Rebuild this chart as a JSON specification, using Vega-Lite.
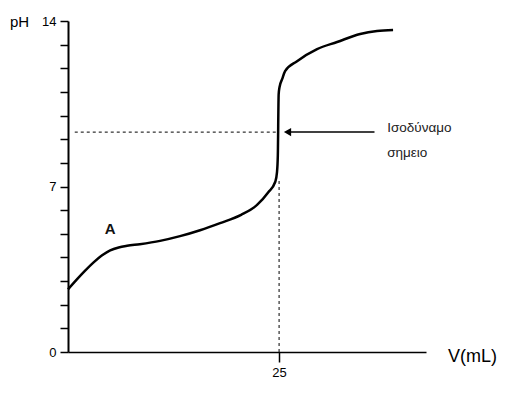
{
  "$schema": "https://vega.github.io/schema/vega-lite/v6.json",
  "autosize": {"type": "none"},
  "padding": {"left": 68, "top": 21, "right": 94, "bottom": 47},
  "width": 358,
  "height": 331,
  "config": {"view": {"stroke": null}, "font": "Liberation Sans"},
  "datasets": {
    "curve": [
      {"V": 0, "pH": 2.65},
      {"V": 1, "pH": 3.05},
      {"V": 2, "pH": 3.43},
      {"V": 3, "pH": 3.78},
      {"V": 4, "pH": 4.08},
      {"V": 5, "pH": 4.3},
      {"V": 6, "pH": 4.42},
      {"V": 7, "pH": 4.49},
      {"V": 8.5, "pH": 4.56},
      {"V": 10.9, "pH": 4.7},
      {"V": 13.27, "pH": 4.9},
      {"V": 15.64, "pH": 5.15},
      {"V": 18.01, "pH": 5.45},
      {"V": 20.5, "pH": 5.8},
      {"V": 22.39, "pH": 6.22},
      {"V": 23.7, "pH": 6.75},
      {"V": 24.55, "pH": 7.2},
      {"V": 24.75, "pH": 7.6},
      {"V": 24.85, "pH": 8.3},
      {"V": 24.95, "pH": 10.9},
      {"V": 25.05, "pH": 11.2},
      {"V": 25.36, "pH": 11.54},
      {"V": 25.71, "pH": 11.88},
      {"V": 27.13, "pH": 12.3},
      {"V": 29.5, "pH": 12.81},
      {"V": 31.87, "pH": 13.11},
      {"V": 34.6, "pH": 13.45},
      {"V": 36.6, "pH": 13.58},
      {"V": 38.5, "pH": 13.62}
    ],
    "dashes": [
      {"V": 0.8, "V2": 24.9, "pH": 9.3, "pH2": 9.3},
      {"V": 25.0, "V2": 25.0, "pH": 0, "pH2": 7.3}
    ],
    "arrow": [
      {"V": 26.0, "V2": 36.3, "pH": 9.3}
    ],
    "labels": [
      {"V": 37.8, "pH": 9.47, "text": "Ισοδύναμο"},
      {"V": 37.8, "pH": 8.4, "text": "σημειο"}
    ],
    "pointA": [
      {"V": 5.0, "pH": 5.2, "text": "A"}
    ]
  },
  "encoding": {
    "x": {
      "field": "V", "type": "quantitative",
      "scale": {"domain": [0, 42.4], "nice": false, "zero": false},
      "axis": {
        "values": [25], "grid": false, "labelOverlap": false,
        "domainColor": "black", "domainWidth": 1.5,
        "tickColor": "black", "tickWidth": 1.5, "tickSize": 10,
        "labelColor": "black", "labelFontSize": 13, "labelPadding": 4,
        "title": "V(mL)", "titleFontSize": 18, "titleFontWeight": "normal",
        "titleColor": "black", "titleFont": "Liberation Sans",
        "titleX": 404, "titleY": 4, "titleAlign": "center", "titleBaseline": "middle"
      }
    },
    "y": {
      "field": "pH", "type": "quantitative",
      "scale": {"domain": [0, 14], "nice": false},
      "axis": {
        "values": [0, 1, 2, 3, 4, 5, 6, 7, 8, 9, 10, 11, 12, 13, 14],
        "labelExpr": "datum.value == 0 || datum.value == 7 || datum.value == 14 ? datum.label : ''",
        "grid": false, "labelOverlap": false, "labelFlush": false,
        "domainColor": "black", "domainWidth": 2,
        "tickColor": "black", "tickWidth": 1.5, "tickSize": 8,
        "labelColor": "black", "labelFontSize": 13, "labelPadding": 4,
        "title": "pH", "titleAngle": 0, "titleFontSize": 15, "titleFontWeight": "normal",
        "titleColor": "black", "titleX": -49, "titleY": 0,
        "titleAlign": "center", "titleBaseline": "middle"
      }
    }
  },
  "layer": [
    {
      "data": {"name": "curve"},
      "mark": {"type": "line", "color": "black", "strokeWidth": 2.5, "interpolate": "monotone"}
    },
    {
      "data": {"name": "dashes"},
      "mark": {"type": "rule", "color": "black", "strokeWidth": 1, "strokeDash": [3, 3]},
      "encoding": {
        "x2": {"field": "V2"},
        "y2": {"field": "pH2"}
      }
    },
    {
      "data": {"name": "arrow"},
      "mark": {"type": "rule", "color": "black", "strokeWidth": 1.5},
      "encoding": {
        "x2": {"field": "V2"}
      }
    },
    {
      "data": {"name": "arrow"},
      "mark": {"type": "point", "shape": "triangle-left", "filled": true, "color": "black", "size": 70, "opacity": 1}
    },
    {
      "data": {"name": "labels"},
      "mark": {"type": "text", "align": "left", "baseline": "middle", "fontSize": 13.5, "color": "#222", "font": "Liberation Sans"},
      "encoding": {
        "text": {"field": "text"}
      }
    },
    {
      "data": {"name": "pointA"},
      "mark": {"type": "text", "align": "center", "baseline": "middle", "fontSize": 15, "fontWeight": "bold", "color": "#111"},
      "encoding": {
        "text": {"field": "text"}
      }
    }
  ]
}
